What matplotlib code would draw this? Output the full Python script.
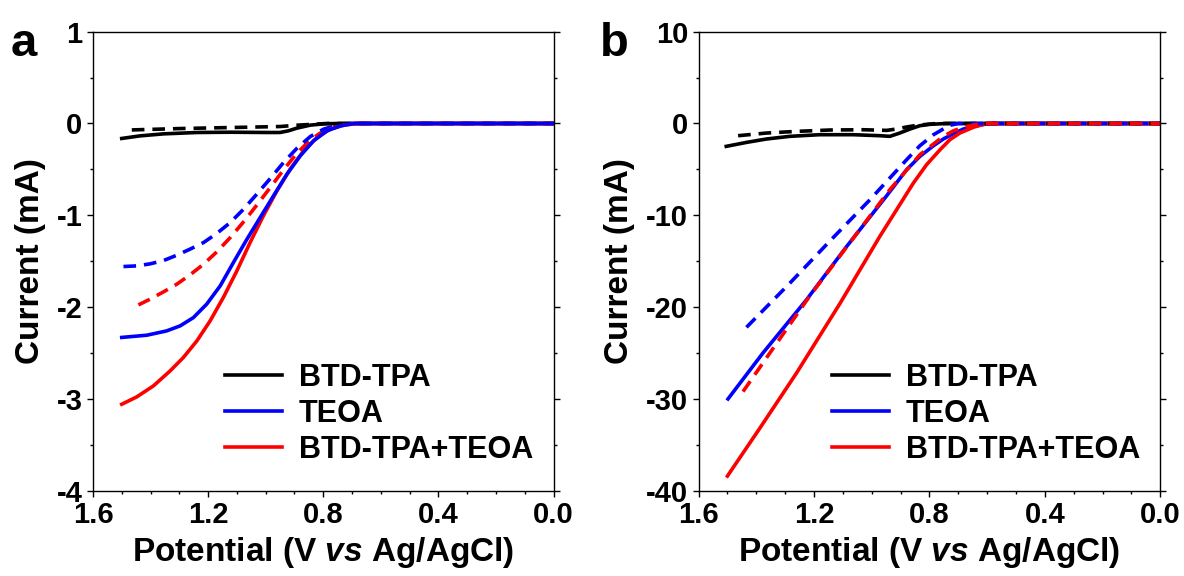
import matplotlib.pyplot as plt
from matplotlib.ticker import MultipleLocator

plt.rcParams['font.family'] = ['Liberation Sans', 'DejaVu Sans']
plt.rcParams['font.weight'] = 'bold'
plt.rcParams['axes.unicode_minus'] = False
plt.rcParams['mathtext.fontset'] = 'custom'
plt.rcParams['mathtext.it'] = 'Liberation Sans:bold:italic'
plt.rcParams['mathtext.rm'] = 'Liberation Sans:bold'

# panel a (current in mA vs potential in V)
a_blk_v = [1.5, 1.437, 1.355, 1.239, 1.123, 0.996, 0.95, 0.921, 0.892, 0.845, 0.799, 0.752, 0.0]
a_blk_i = [-0.163, -0.135, -0.113, -0.098, -0.095, -0.098, -0.098, -0.08, -0.051, -0.018, -0.004, 0.0, 0.0]
a_blkd_v = [1.465, 1.297, 1.123, 0.95, 0.892, 0.834, 0.787, 0.0]
a_blkd_i = [-0.07, -0.055, -0.044, -0.033, -0.019, -0.008, 0.0, 0.0]
a_blu_v = [1.5, 1.413, 1.344, 1.297, 1.251, 1.205, 1.158, 1.112, 1.065, 1.019, 0.973,
           0.926, 0.88, 0.834, 0.787, 0.741, 0.694, 0.0]
a_blu_i = [-2.33, -2.306, -2.259, -2.204, -2.114, -1.968, -1.769, -1.514, -1.26, -1.024, -0.789,
           -0.552, -0.353, -0.19, -0.08, -0.026, 0.0, 0.0]
a_red_v = [1.5, 1.448, 1.39, 1.332, 1.286, 1.239, 1.193, 1.147, 1.1, 1.054, 1.008, 0.961,
           0.915, 0.868, 0.822, 0.776, 0.729, 0.683, 0.0]
a_red_i = [-3.058, -2.978, -2.858, -2.695, -2.549, -2.368, -2.15, -1.895, -1.605, -1.296, -1.006, -0.734,
           -0.498, -0.298, -0.153, -0.062, -0.019, 0.0, 0.0]
a_blud_v = [1.494, 1.448, 1.402, 1.355, 1.309, 1.263, 1.216, 1.17, 1.123, 1.077, 1.031, 0.984,
            0.938, 0.892, 0.845, 0.799, 0.752, 0.706, 0.0]
a_blud_i = [-1.558, -1.551, -1.529, -1.493, -1.435, -1.369, -1.297, -1.198, -1.079, -0.934, -0.77, -0.599,
            -0.425, -0.272, -0.142, -0.062, -0.019, 0.0, 0.0]
a_redd_v = [1.442, 1.402, 1.355, 1.309, 1.263, 1.216, 1.17, 1.123, 1.077, 1.031, 0.984,
            0.938, 0.892, 0.845, 0.799, 0.752, 0.706, 0.0]
a_redd_i = [-1.976, -1.914, -1.834, -1.751, -1.649, -1.533, -1.399, -1.242, -1.072, -0.89, -0.697,
            -0.505, -0.327, -0.179, -0.08, -0.026, 0.0, 0.0]

# panel b
b_blk_v = [1.504, 1.434, 1.365, 1.284, 1.18, 1.064, 0.972, 0.937, 0.902, 0.867, 0.833, 0.798, 0.74, 0.0]
b_blk_i = [-2.49, -2.06, -1.69, -1.40, -1.22, -1.22, -1.33, -1.40, -1.03, -0.60, -0.24, -0.09, 0.0, 0.0]
b_blkd_v = [1.463, 1.365, 1.261, 1.145, 1.029, 0.948, 0.914, 0.879, 0.844, 0.809, 0.775, 0.0]
b_blkd_i = [-1.33, -1.04, -0.86, -0.71, -0.68, -0.75, -0.60, -0.38, -0.20, -0.09, 0.0, 0.0]
b_blu_v = [1.498, 1.377, 1.226, 1.087, 0.948, 0.879, 0.833, 0.786, 0.752, 0.717, 0.682, 0.648, 0.613, 0.58, 0.0]
b_blu_i = [-30.0, -25.0, -19.2, -13.4, -7.86, -5.03, -3.58, -2.42, -1.69, -1.11, -0.6, -0.31, -0.1, 0.0, 0.0]
b_red_v = [1.5, 1.388, 1.261, 1.110, 0.972, 0.856, 0.81, 0.763, 0.729, 0.694, 0.647, 0.601, 0.0]
b_red_i = [-38.4, -33.2, -27.2, -19.6, -12.3, -6.5, -4.49, -2.85, -1.76, -1.03, -0.4, 0.0, 0.0]
b_blud_v = [1.434, 1.284, 1.145, 1.006, 0.879, 0.833, 0.786, 0.73, 0.7, 0.0]
b_blud_i = [-22.2, -17.4, -12.8, -8.3, -3.94, -2.42, -1.22, -0.2, 0.0, 0.0]
b_redd_v = [1.446, 1.353, 1.215, 1.076, 0.937, 0.833, 0.752, 0.717, 0.682, 0.62, 0.0]
b_redd_i = [-29.2, -25.0, -18.8, -13.0, -7.2, -3.4, -1.4, -0.8, -0.4, 0.0, 0.0]

labels = ['BTD-TPA', 'TEOA', 'BTD-TPA+TEOA']
colors = ['black', '#0000ff', '#ff0000']

lw = 2.6
dash = (3.5, 2.2)

fig = plt.figure(figsize=(11.84, 5.76), dpi=100)
axa = fig.add_axes([0.0785, 0.148, 0.389, 0.797])
axb = fig.add_axes([0.590, 0.148, 0.390, 0.797])

# panel a
axa.plot(a_blkd_v, a_blkd_i, color=colors[0], lw=lw, dashes=dash)
axa.plot(a_redd_v, a_redd_i, color=colors[2], lw=lw, dashes=dash)
axa.plot(a_blud_v, a_blud_i, color=colors[1], lw=lw, dashes=dash)
h_blk = axa.plot(a_blk_v, a_blk_i, color=colors[0], lw=lw)[0]
h_red = axa.plot(a_red_v, a_red_i, color=colors[2], lw=lw)[0]
h_blu = axa.plot(a_blu_v, a_blu_i, color=colors[1], lw=lw)[0]
hand_a = [h_blk, h_blu, h_red]
axa.set_ylim(-4, 1)
axa.yaxis.set_major_locator(MultipleLocator(1))
axa.yaxis.set_minor_locator(MultipleLocator(0.5))

# panel b
hand_b = []
hand_b.append(axb.plot(b_blk_v, b_blk_i, color=colors[0], lw=lw)[0])
hand_b.append(axb.plot(b_blu_v, b_blu_i, color=colors[1], lw=lw)[0])
hand_b.append(axb.plot(b_red_v, b_red_i, color=colors[2], lw=lw)[0])
axb.plot(b_blkd_v, b_blkd_i, color=colors[0], lw=lw, dashes=dash)
axb.plot(b_blud_v, b_blud_i, color=colors[1], lw=lw, dashes=dash)
axb.plot(b_redd_v, b_redd_i, color=colors[2], lw=lw, dashes=dash)
axb.set_ylim(-40, 10)
axb.yaxis.set_major_locator(MultipleLocator(10))
axb.yaxis.set_minor_locator(MultipleLocator(5))

for ax, handles, lx in [(axa, hand_a, 0.287), (axb, hand_b, 0.289)]:
    ax.set_xlim(1.6, 0.0)
    ax.xaxis.set_major_locator(MultipleLocator(0.4))
    ax.xaxis.set_minor_locator(MultipleLocator(0.1))
    ax.xaxis.set_major_formatter(plt.FormatStrFormatter('%.1f'))
    ax.tick_params(which='both', direction='out', width=1.0, labelsize=21,
                   left=True, right=True, top=False, bottom=True, pad=3)
    ax.tick_params(which='major', length=4.5)
    ax.tick_params(which='minor', length=2.5)
    for s in ax.spines.values():
        s.set_linewidth(1.0)
    ax.set_xlabel(r'Potential (V $\mathit{vs}$ Ag/AgCl)', fontsize=24, fontweight='bold', labelpad=4)
    ax.set_ylabel('Current (mA)', fontsize=24, fontweight='bold', labelpad=8)
    ax.legend(handles, labels, loc='upper left', bbox_to_anchor=(lx, 0.279),
              frameon=False, fontsize=22, handlelength=1.86, handletextpad=0.55,
              labelspacing=0.2, borderpad=0, borderaxespad=0)

fig.text(0.009, 0.902, 'a', fontsize=34, fontweight='bold')
fig.text(0.507, 0.902, 'b', fontsize=34, fontweight='bold')

fig.savefig('out.png', dpi=100)
